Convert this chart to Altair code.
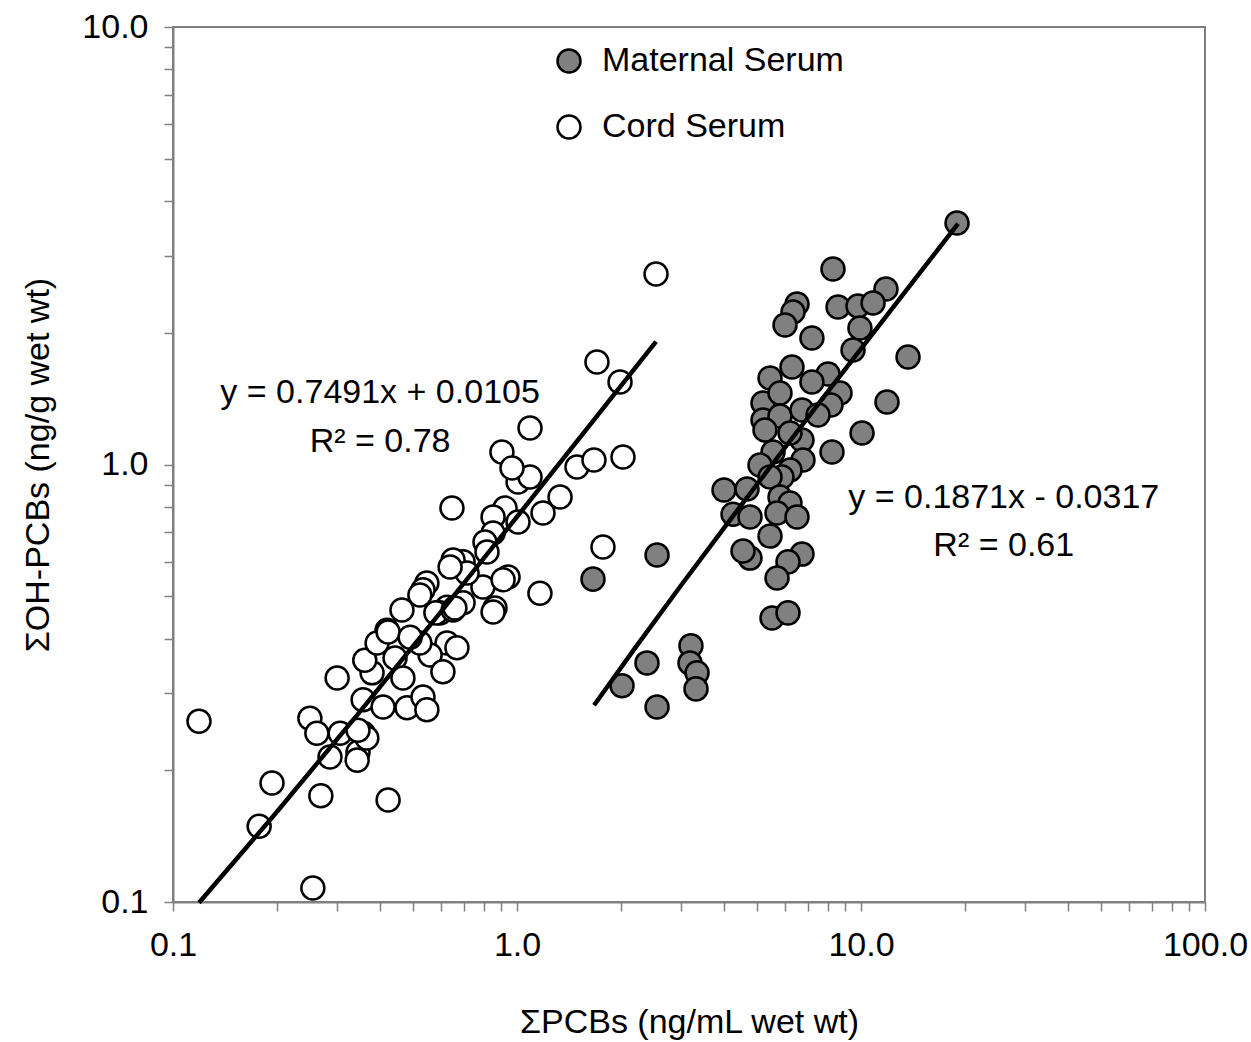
import altair as alt
import pandas as pd

# Cord serum (white) points: sum PCBs (ng/mL) and sum OH-PCBs (ng/g)
cord_x = [0.119, 2.536, 1.708, 1.993, 1.091, 0.904, 1.007, 1.091, 0.967, 1.494,
          1.674, 2.033, 0.647, 0.923, 0.852, 1.007, 1.190, 1.334, 0.852, 1.778,
          0.807, 0.818, 0.697, 0.652, 0.942, 0.796, 0.863, 1.166, 0.547, 0.626,
          0.597, 0.697, 0.533, 0.463, 0.419, 0.581, 0.652, 0.852, 0.911, 0.626,
          0.559, 0.609, 0.442, 0.379, 0.361, 0.392, 0.466, 0.300, 0.357, 0.408,
          0.479, 0.533, 0.547, 0.669, 0.522, 0.716, 0.639, 0.357, 0.306, 0.250,
          0.262, 0.194, 0.178, 0.269, 0.422, 0.255, 0.286, 0.345, 0.343, 0.366,
          0.345, 0.422, 0.489, 0.660, 0.522]
cord_y = [0.259, 2.726, 1.715, 1.544, 1.212, 1.068, 0.912, 0.936, 0.982, 0.987,
          1.024, 1.040, 0.795, 0.795, 0.759, 0.739, 0.775, 0.843, 0.697, 0.648,
          0.665, 0.631, 0.599, 0.605, 0.553, 0.525, 0.470, 0.508, 0.536, 0.472,
          0.458, 0.483, 0.517, 0.465, 0.418, 0.458, 0.465, 0.460, 0.545, 0.391,
          0.367, 0.336, 0.361, 0.334, 0.357, 0.391, 0.325, 0.325, 0.290, 0.279,
          0.278, 0.294, 0.275, 0.381, 0.391, 0.565, 0.583, 0.243, 0.243, 0.263,
          0.243, 0.187, 0.149, 0.175, 0.171, 0.1076, 0.2145, 0.220, 0.211, 0.237,
          0.247, 0.414, 0.403, 0.470, 0.503]

# Maternal serum (grey) points
mat_x = [19.02, 8.29, 11.82, 6.516, 6.343, 6.013, 7.20, 8.575, 9.80, 10.84,
         9.93, 9.48, 13.70, 6.30, 5.439, 8.02, 7.20, 8.69, 11.90, 5.189,
         5.815, 8.18, 5.189, 5.815, 6.737, 10.07, 8.235, 6.737, 6.218, 6.782,
         6.218, 5.549, 5.086, 5.893, 5.439, 3.997, 4.663, 5.815, 6.218, 4.246,
         4.757, 5.700, 6.516, 5.439, 4.757, 4.539, 6.737, 6.135, 5.700, 5.512,
         6.135, 2.553, 1.663, 3.204, 3.183, 3.337, 3.314, 2.387, 2.020, 2.553,
         7.50, 5.259]
mat_y = [3.565, 2.798, 2.518, 2.327, 2.231, 2.084, 1.946, 2.291, 2.303, 2.339,
         2.051, 1.827, 1.761, 1.671, 1.577, 1.610, 1.544, 1.457, 1.389, 1.382,
         1.457, 1.368, 1.264, 1.291, 1.332, 1.180, 1.068, 1.138, 1.180, 1.024,
         0.971, 1.068, 0.997, 0.936, 0.936, 0.874, 0.879, 0.843, 0.817, 0.770,
         0.759, 0.775, 0.759, 0.686, 0.611, 0.634, 0.624, 0.599, 0.550, 0.446,
         0.458, 0.621, 0.547, 0.385, 0.352, 0.334, 0.307, 0.352, 0.312, 0.279,
         1.297, 1.199]

series_names = ["Maternal Serum", "Cord Serum"]
series_fill = ["#808080", "#ffffff"]

# Trend lines (linear fits shown on the chart) and their x extents
fit_slope = [0.7491, 0.1871]
fit_intercept = [0.0105, -0.0317]
fit_x_cord = [0.119, 0.2, 0.35, 0.6, 1.0, 1.6, 2.536]
fit_x_mat = [1.675, 2.2, 3.0, 4.0, 5.5, 7.5, 10.5, 14.5, 19.15]

# Equation labels
eq_text = ["y = 0.7491x + 0.0105", "R\u00b2 = 0.78", "y = 0.1871x - 0.0317", "R\u00b2 = 0.61"]
eq_x = [0.40, 0.40, 26.0, 26.0]
eq_y = [1.382, 1.068, 0.795, 0.618]

x_ticks = [0.1, 0.2, 0.3, 0.4, 0.5, 0.6, 0.7, 0.8, 0.9, 1, 2, 3, 4, 5, 6, 7, 8, 9,
           10, 20, 30, 40, 50, 60, 70, 80, 90, 100]
y_ticks = [0.1, 0.2, 0.3, 0.4, 0.5, 0.6, 0.7, 0.8, 0.9, 1, 2, 3, 4, 5, 6, 7, 8, 9, 10]

FONT = "Liberation Sans"
FS = 34

pts = pd.concat([
    pd.DataFrame({"x": mat_x, "y": mat_y, "group": series_names[0]}),
    pd.DataFrame({"x": cord_x, "y": cord_y, "group": series_names[1]}),
], ignore_index=True)

lines = pd.concat([
    pd.DataFrame({"x": fit_x_cord, "a": fit_slope[0], "b": fit_intercept[0], "fit": "cord"}),
    pd.DataFrame({"x": fit_x_mat, "a": fit_slope[1], "b": fit_intercept[1], "fit": "mat"}),
], ignore_index=True)

labels = pd.DataFrame({"x": eq_x, "y": eq_y, "t": eq_text})

label_expr = ("datum.value == 0.1 ? '0.1' : datum.value == 1 ? '1.0' : "
              "datum.value == 10 ? '10.0' : datum.value == 100 ? '100.0' : ''")

xscale = alt.Scale(type="log", domain=[0.1, 100], nice=False)
yscale = alt.Scale(type="log", domain=[0.1, 10], nice=False)

xaxis = alt.Axis(values=x_ticks, labelExpr=label_expr, title="\u03a3PCBs (ng/mL wet wt)",
                 grid=False, tickSize=9, labelPadding=17, labelFontSize=FS,
                 titleFontSize=FS, titleFontWeight="normal", titleX=516, titleY=120,
                 titleBaseline="middle", labelFlush=False, labelOverlap=False)
yaxis = alt.Axis(values=y_ticks, labelExpr=label_expr, title="\u03a3OH-PCBs (ng/g wet wt)",
                 grid=False, tickSize=9, labelPadding=16, labelFontSize=FS,
                 titleFontSize=FS, titleFontWeight="normal", titleX=-135, titleY=437.5,
                 titleBaseline="middle", titleAlign="center", titleAngle=-90,
                 labelFlush=False, labelOverlap=False)

points = alt.Chart(pts).mark_point(
    shape="circle", filled=True, size=530, stroke="black", strokeWidth=2.5, opacity=1
).encode(
    x=alt.X("x:Q", scale=xscale, axis=xaxis),
    y=alt.Y("y:Q", scale=yscale, axis=yaxis),
    fill=alt.Fill("group:N", scale=alt.Scale(domain=series_names, range=series_fill),
                  sort=series_names,
                  legend=alt.Legend(title=None, orient="none", legendX=379, legendY=17,
                                    symbolType="circle", symbolSize=530,
                                    symbolStrokeColor="black", symbolStrokeWidth=2.5,
                                    symbolOpacity=1, labelFontSize=FS, labelFont=FONT,
                                    labelLimit=500, labelOffset=16, rowPadding=32,
                                    padding=0)),
)

trend = alt.Chart(lines).transform_calculate(
    yv="datum.a * datum.x + datum.b"
).mark_line(color="black", strokeWidth=4.5).encode(
    x=alt.X("x:Q", scale=xscale),
    y=alt.Y("yv:Q", scale=yscale),
    detail="fit:N",
    order="x:Q",
)

text = alt.Chart(labels).mark_text(
    font=FONT, fontSize=FS, align="center", baseline="alphabetic", color="black"
).encode(
    x=alt.X("x:Q", scale=xscale),
    y=alt.Y("y:Q", scale=yscale),
    text="t:N",
)

chart = alt.layer(points, trend, text).properties(
    width=1032, height=875,
    autosize=alt.AutoSizeParams(type="none"),
    padding={"left": 173, "top": 27, "right": 46, "bottom": 140},
    background="white",
).configure_view(
    stroke="#808080", strokeWidth=2
).configure_axis(
    labelFont=FONT, titleFont=FONT, labelColor="black", titleColor="black",
    domainColor="#808080", domainWidth=2, tickColor="#808080", tickWidth=1.5,
)

chart.save("out.html", embed_options={"renderer": "svg", "actions": False})
